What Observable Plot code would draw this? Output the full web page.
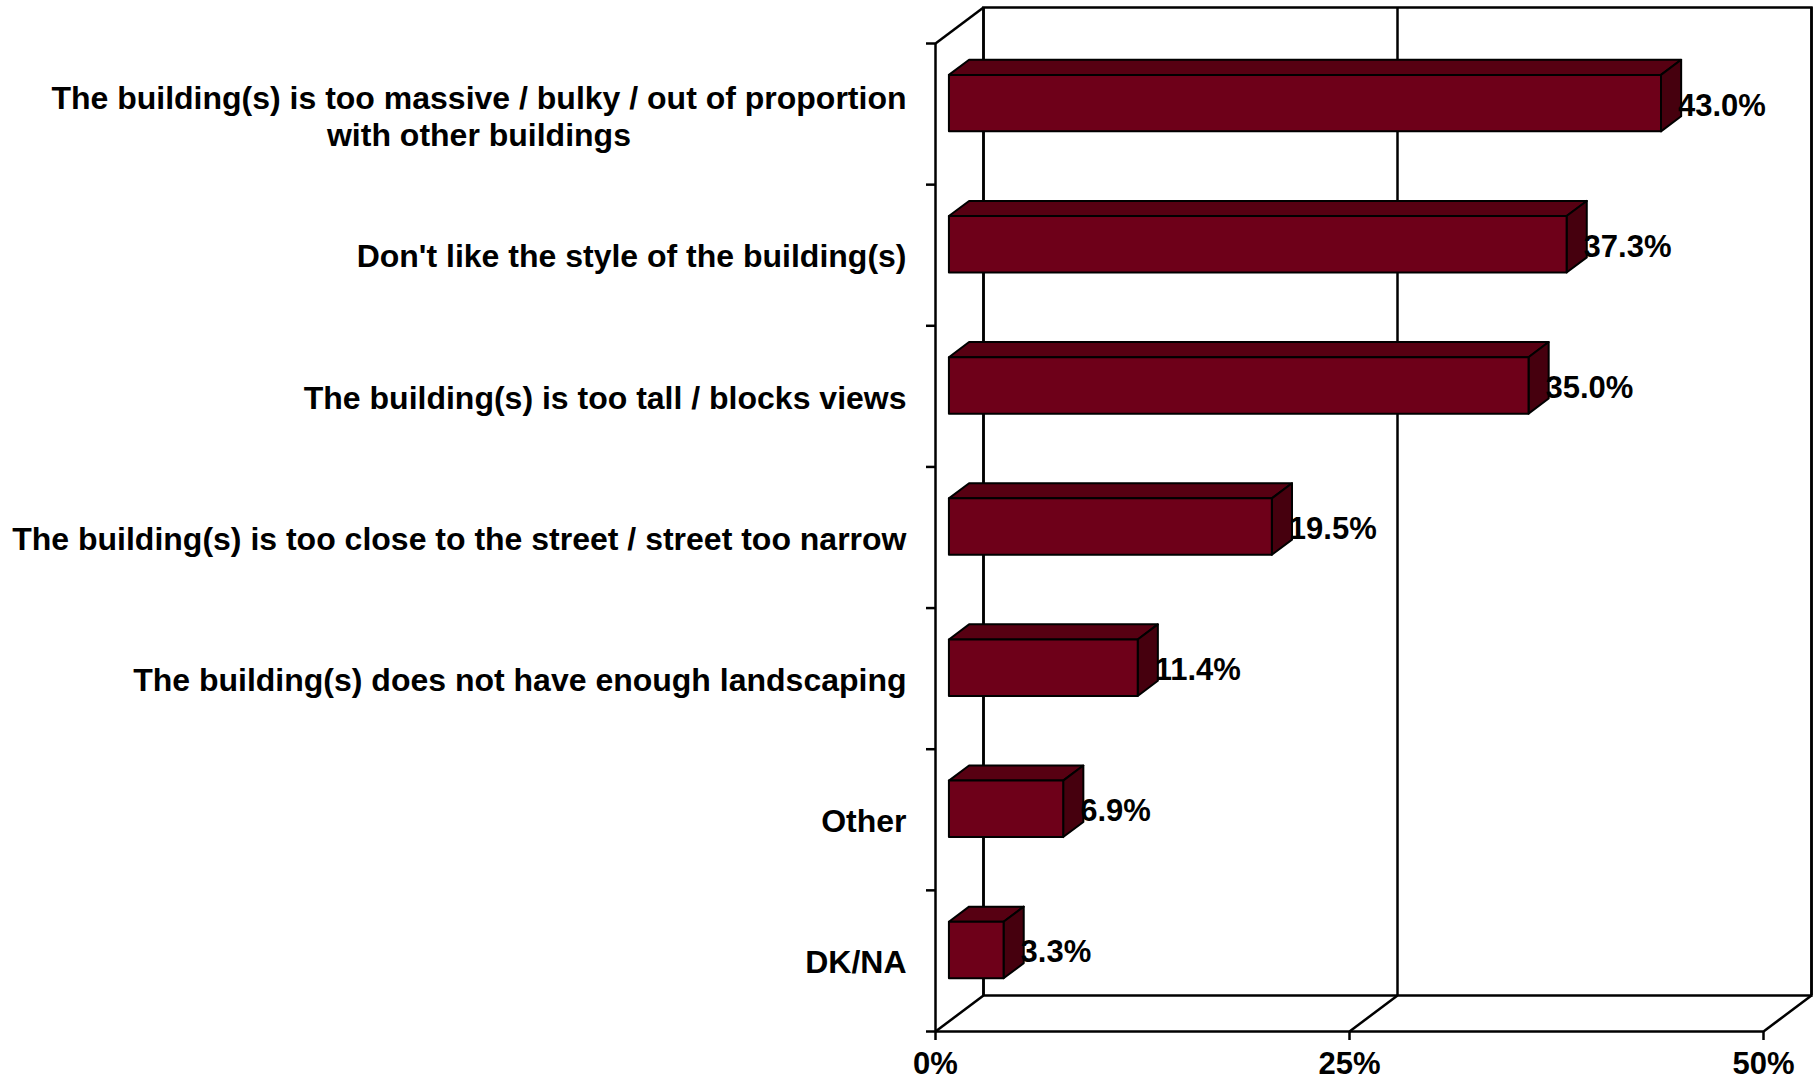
<!DOCTYPE html>
<html><head><meta charset="utf-8">
<script src="https://cdn.jsdelivr.net/npm/d3@7"></script>
<script src="https://cdn.jsdelivr.net/npm/@observablehq/plot@0.6"></script>
<style>html,body{margin:0;padding:0;background:#fff;} svg{display:block}</style>
</head><body><div id="chart"></div>
<script>
// ---- data ----
const categories = [
  "The building(s) is too massive / bulky / out of proportion\nwith other buildings",
  "Don't like the style of the building(s)",
  "The building(s) is too tall / blocks views",
  "The building(s) is too close to the street / street too narrow",
  "The building(s) does not have enough landscaping",
  "Other",
  "DK/NA"
];
const values = [43.0, 37.3, 35.0, 19.5, 11.4, 6.9, 3.3];
const xTicks = [0, 25, 50];
const xMax = 50;

// ---- layout / style ----
const W = 1817, H = 1082;
const DEPTH_X = 48, DEPTH_Y = -36;      // 3D depth offset (px)
const Z0 = 0.29, Z1 = 0.71;             // bar depth span (fraction of depth)
const FONT = "'Liberation Sans', Arial, Helvetica, sans-serif";
const COLORS = {front: "#6E0019", top: "#570012", side: "#46000E"};
const LINE = 2.5;

const n = categories.length;
const rows = categories.map((c, i) => ({category: c, value: values[i], i}));
const single = rows.filter(d => !d.category.includes("\n"));
const multi = rows.filter(d => d.category.includes("\n"));

// measure the widest line of multi-line label so the block can be centred
const cv = document.createElement("canvas").getContext("2d");
cv.font = `bold 32px ${FONT}`;
const multiWidth = multi.length ? Math.max(...multi[0].category.split("\n").map(s => cv.measureText(s).width)) : 0;

// link render: push the second end point back by the 3D depth
const depthLink = (index, scales, vals, dims, ctx, next) =>
  next(index, scales, {
    ...vals,
    x2: Array.from(vals.x2, v => v + DEPTH_X),
    y2: Array.from(vals.y2, v => v + DEPTH_Y)
  }, dims, ctx);

// prism render: draws 3D bar (front, top, side faces) from the scaled rect
function prism(index, scales, vals) {
  const g = d3.create("svg:g");
  const {x1: X1, x2: X2, y1: Y1, y2: Y2} = vals;
  const ox = DEPTH_X * (Z1 - Z0), oy = DEPTH_Y * (Z1 - Z0);
  for (const i of index) {
    const l = Math.min(X1[i], X2[i]) + DEPTH_X * Z0;
    const r = Math.max(X1[i], X2[i]) + DEPTH_X * Z0;
    const t = Math.min(Y1[i], Y2[i]) + DEPTH_Y * Z0;
    const b = Math.max(Y1[i], Y2[i]) + DEPTH_Y * Z0;
    const face = (d, fill) => g.append("path").attr("d", d).attr("fill", fill)
      .attr("stroke", "#000").attr("stroke-width", 2).attr("stroke-linejoin", "round");
    face(`M${l},${t}L${r},${t}L${r + ox},${t + oy}L${l + ox},${t + oy}Z`, COLORS.top);
    face(`M${r},${t}L${r + ox},${t + oy}L${r + ox},${b + oy}L${r},${b}Z`, COLORS.side);
    face(`M${l},${t}L${r},${t}L${r},${b}L${l},${b}Z`, COLORS.front);
  }
  return g.node();
}

const frameLinks = [
  ...xTicks.map(t => ({x: t, y: n})),   // floor lines
  {x: 0, y: 0}                         // left wall top edge
];

const chart = Plot.plot({
  width: W,
  height: H,
  marginLeft: 935,
  marginRight: 54,
  marginTop: 43,
  marginBottom: 51,
  style: {fontFamily: FONT, fontWeight: "bold", background: "#fff", color: "#000"},
  x: {domain: [0, xMax], axis: null},
  y: {domain: [0, n], reverse: true, axis: null},
  marks: [
    // back wall
    Plot.frame({stroke: "#000", strokeWidth: LINE, dx: DEPTH_X, dy: DEPTH_Y}),
    Plot.ruleX(xTicks, {stroke: "#000", strokeWidth: LINE, dx: DEPTH_X, dy: DEPTH_Y}),
    // floor + left wall edges
    Plot.link(frameLinks, {x1: "x", x2: "x", y1: "y", y2: "y", stroke: "#000", strokeWidth: LINE, render: depthLink}),
    // front axes
    Plot.ruleX([0], {stroke: "#000", strokeWidth: LINE}),
    Plot.ruleY([n], {x1: 0, x2: xMax, stroke: "#000", strokeWidth: LINE}),
    Plot.axisY(d3.range(n + 1), {tickSize: 9, tickFormat: () => "", label: null, strokeWidth: LINE}),
    Plot.axisX(xTicks, {tickSize: 9, tickPadding: 11, tickFormat: d => d + "%", label: null,
      fontSize: 31, fontWeight: "bold", strokeWidth: LINE}),
    // 3D bars
    Plot.rectX(rows, {x1: 0, x2: "value", y1: d => d.i + 0.3, y2: d => d.i + 0.7, render: prism}),
    // value labels
    Plot.text(rows, {x: "value", y: d => d.i + 0.5, text: d => d.value.toFixed(1) + "%",
      textAnchor: "start", dx: DEPTH_X * Z0 + 16.5, dy: DEPTH_Y * Z0 + 2,
      fontSize: 31, fontWeight: "bold", fill: "#000"}),
    // category labels
    Plot.text(single, {x: 0, y: d => d.i + 0.5, text: "category", textAnchor: "end", dx: -29, dy: 2,
      fontSize: 32, fontWeight: "bold", fill: "#000"}),
    Plot.text(multi, {x: 0, y: d => d.i + 0.5, text: "category", textAnchor: "middle",
      dx: -(29 + multiWidth / 2), dy: 2, lineHeight: 1.15, fontSize: 32, fontWeight: "bold", fill: "#000"})
  ]
});
document.getElementById("chart").appendChild(chart);
</script>
</body></html>
